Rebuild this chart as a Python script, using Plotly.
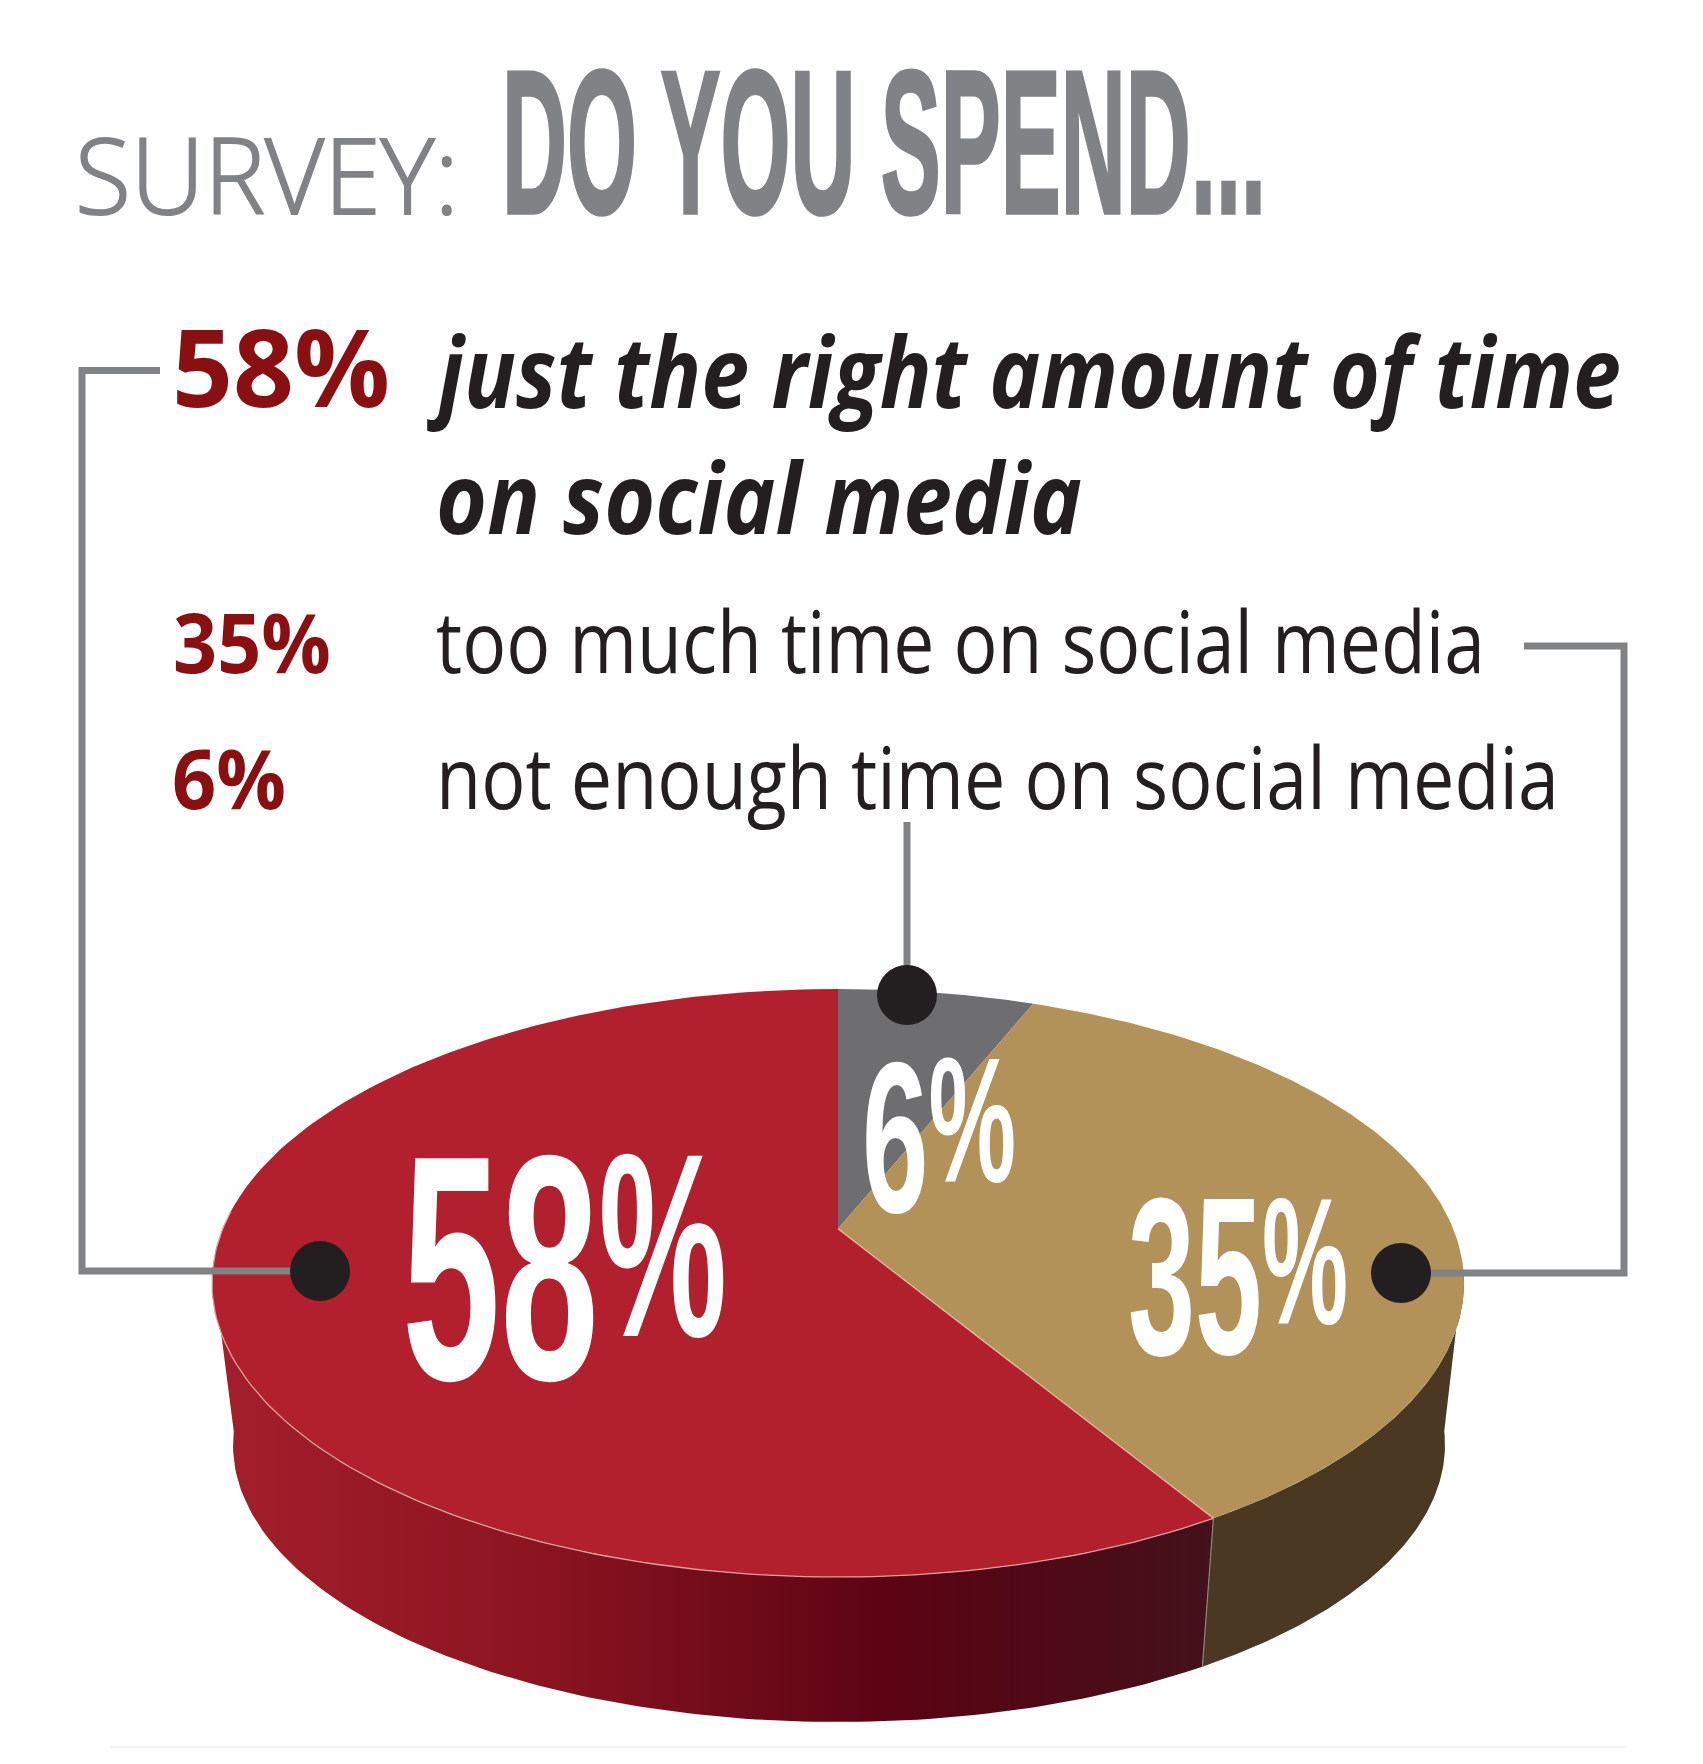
import json
import numpy as np
import plotly.graph_objects as go

# ---- data ----
categories = ["not enough time on social media", "too much time on social media", "just the right amount of time on social media"]
shares = [6, 35, 58]
top_colors = ["#6e6e70", "#b29259", "#b2202d"]

# ---- geometry of the tilted disc (pixel space of the picture) ----
W, H = 1703, 1764
CX, CY, RX, RY = 838, 1283, 626, 294
BCX, BCY, BRX, BRY = 839, 1445, 606, 277
K = 0.83   # perspective foreshortening of the disc


def persp(theta):
    return 2 * np.arctan2(K * np.sin(theta / 2), np.cos(theta / 2))


def top_pt(phi):
    return CX + RX * np.sin(phi), CY - RY * np.cos(phi)


def bot_pt(phi):
    return BCX + BRX * np.sin(phi), BCY - BRY * np.cos(phi)


fracs = np.array(shares, dtype=float) / sum(shares)
edges = np.concatenate([[0], np.cumsum(fracs)]) * 2 * np.pi
apex_x, apex_y = CX, CY - RY * (1 - K**2) / (1 + K**2)

fig = go.Figure()

# side wall
phi_seam = persp(edges[2])
for a, b, kw in [
    (np.pi / 2 - 0.05, phi_seam, dict(fillcolor="#4a3823")),
    (phi_seam, 3 * np.pi / 2 + 0.05, dict(fillgradient=dict(
        type="horizontal", start=230, stop=1210,
        colorscale=[[0, "#a31e2b"], [0.3, "#8c1521"], [0.68, "#5a0313"], [1, "#42111a"]]))),
]:
    p = np.linspace(a, b, 120)
    xt, yt = top_pt(p)
    xb, yb = bot_pt(p[::-1])
    fig.add_trace(go.Scatter(x=np.r_[xt, xb], y=np.r_[yt, yb], mode="lines", fill="toself",
                             line=dict(width=0), hoverinfo="skip", showlegend=False, **kw))
sx0, sy0 = top_pt(phi_seam)
sx1, sy1 = bot_pt(phi_seam)
fig.add_trace(go.Scatter(x=[sx0, sx1], y=[sy0, sy1], mode="lines", line=dict(color="#8f8378", width=1.2),
                         hoverinfo="skip", showlegend=False))

# top wedges
for i in range(3):
    th = np.linspace(edges[i], edges[i + 1], 160)
    x, y = top_pt(persp(th))
    fig.add_trace(go.Scatter(x=np.r_[apex_x, x, apex_x], y=np.r_[apex_y, y, apex_y], mode="lines",
                             fill="toself", fillcolor=top_colors[i], line=dict(width=0),
                             name=categories[i], hoverinfo="name", showlegend=False))

# thin pale edges
th = np.linspace(edges[2], 2 * np.pi * 0.76, 120)
x, y = top_pt(persp(th))
fig.add_trace(go.Scatter(x=x, y=y, mode="lines", line=dict(color="#d9a295", width=1.3),
                         hoverinfo="skip", showlegend=False))
fig.add_trace(go.Scatter(x=[apex_x, sx0], y=[apex_y, sy0], mode="lines", line=dict(color="#d8c3a0", width=1.2),
                         hoverinfo="skip", showlegend=False))

# connectors and dots
GREY = "#808285"
connectors = [
    ([160, 82, 82, 320], [370.5, 370.5, 1271, 1271]),
    ([1524, 1624, 1624, 1401], [646, 646, 1273, 1273]),
    ([907, 907], [822, 995]),
]
for cx_, cy_ in connectors:
    fig.add_trace(go.Scatter(x=cx_, y=cy_, mode="lines", line=dict(color=GREY, width=7),
                             hoverinfo="skip", showlegend=False))
fig.add_trace(go.Scatter(x=[320, 1401, 907], y=[1271, 1273, 995], mode="markers",
                         marker=dict(color="#231f20", size=60, line=dict(width=0)),
                         hoverinfo="skip", showlegend=False))
fig.add_trace(go.Scatter(x=[110, 1625], y=[1747, 1747], mode="lines", line=dict(color="#f2f2f2", width=2),
                         hoverinfo="skip", showlegend=False))

# ---- text ----
SANS = "Open Sans"
COND = "Liberation Sans"
DESC = {SANS: 0.293, COND: 0.212}
annotations, widths, shifts, strokes = [], [], [], []


def label(text, left, baseline, width, size, family, color, weight=400, italic=False, shift=0, stroke=0):
    annotations.append(dict(
        text=text, x=left, y=baseline + DESC[family] * size + 2, xref="x", yref="y",
        xanchor="left", yanchor="bottom", showarrow=False, borderpad=0,
        font=dict(family=family, size=size, color=color, weight=weight,
                  style="italic" if italic else "normal")))
    widths.append(width)
    shifts.append(shift)
    strokes.append(stroke)


MAROON = "#8a0f10"
INK = "#231f20"
label("SURVEY:", 74, 213, 384, 106, SANS, GREY, weight=300, stroke=2)
label("DO YOU SPEND...", 501, 212, 764, 205, COND, GREY, weight=700, stroke=3.5)
label("58%", 171, 406, 218, 107, SANS, MAROON, weight=700)
label("just the right amount of time", 426, 407, 1194, 99, SANS, INK, weight=700, italic=True)
label("on social media", 435, 533, 646, 99, SANS, INK, weight=700, italic=True)
label("35%", 172, 672, 158, 82, SANS, MAROON, weight=700)
label("too much time on social media", 435, 672, 1049, 86, SANS, INK)
label("6%", 171, 808, 114, 82, SANS, MAROON, weight=700)
label("not enough time on social media", 435, 808, 1123, 86, SANS, INK)
label("58<span style='font-size:262px'>%</span>", 401, 1378, 325, 321, COND, "#ffffff", weight=700, shift=-43)
label("35<span style='font-size:180px'>%</span>", 1127, 1353, 220, 224, COND, "#ffffff", weight=700, shift=-30)
label("6<span style='font-size:178px'>%</span>", 861, 1211, 154, 216, COND, "#ffffff", weight=700, shift=-30)

fig.update_layout(
    width=W, height=H, margin=dict(l=0, r=0, t=0, b=0),
    paper_bgcolor="#ffffff", plot_bgcolor="#ffffff", showlegend=False,
    xaxis=dict(range=[0, W], visible=False, fixedrange=True),
    yaxis=dict(range=[H, 0], visible=False, fixedrange=True),
    annotations=annotations,
)

post = """
document.body.style.margin = '0';
(function () {
  var widths = %s, shifts = %s, strokes = %s, done = false;
  function apply() {
    var groups = document.querySelectorAll('g.annotation');
    if (done || groups.length < widths.length) { if (!done) setTimeout(apply, 20); return; }
    done = true;
    groups.forEach(function (g) {
      var i = +g.getAttribute('data-index');
      var t = g.querySelector('text');
      if (shifts[i]) {
        var spans = t.querySelectorAll('tspan');
        var s = spans[spans.length - 1];
        s.setAttribute('dy', shifts[i]);
      }
      if (strokes[i]) {
        t.style.stroke = t.style.fill;
        t.style.strokeWidth = strokes[i] + 'px';
      }
      var b = t.getBBox();
      var k = widths[i] / b.width;
      t.setAttribute('transform', 'translate(' + b.x + ',0) scale(' + k + ',1) translate(' + (-b.x) + ',0)');
    });
  }
  apply();
})();
""" % (json.dumps(widths), json.dumps(shifts), json.dumps(strokes))

fig.write_html("out.html", post_script=post, config=dict(displayModeBar=False))
